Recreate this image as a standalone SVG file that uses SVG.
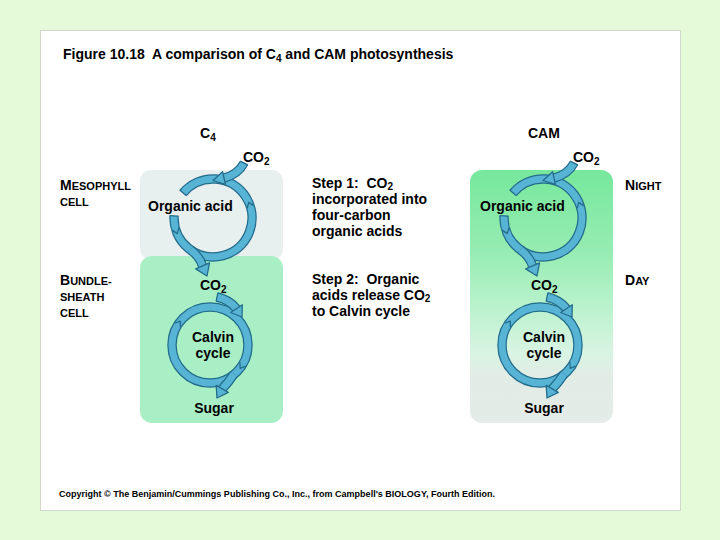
<svg xmlns="http://www.w3.org/2000/svg" width="720" height="540" viewBox="0 0 720 540">
<defs>
<style>
.t{font-family:"Liberation Sans",Arial,Helvetica,sans-serif;font-weight:bold;font-size:14px;fill:#000}
.sc{font-size:11px}
.sub{font-size:10px}
.cp{font-size:9px}
.bo{fill:none;stroke:#236c8c;stroke-width:9.5}
.bi{fill:none;stroke:#58b4d4;stroke-width:7}
.ah{fill:#58b4d4;stroke:#236c8c;stroke-width:1.3;stroke-linejoin:round}
.nt{fill:none;stroke:#236c8c;stroke-width:1.3;stroke-linejoin:round}
.ec{stroke:#236c8c;stroke-width:1.3}
</style>
<linearGradient id="camg" x1="0" y1="170" x2="0" y2="423" gradientUnits="userSpaceOnUse">
<stop offset="0" stop-color="#76e89c"/>
<stop offset="0.32" stop-color="#96ecb2"/>
<stop offset="0.52" stop-color="#b6f2ca"/>
<stop offset="0.72" stop-color="#d8f4e2"/>
<stop offset="0.82" stop-color="#e2ece6"/>
<stop offset="1" stop-color="#e4ebe8"/>
</linearGradient>
</defs>
<rect width="720" height="540" fill="#e4fad8"/>
<rect x="40.5" y="30.5" width="640" height="480" fill="#fff" stroke="#d4d8cc"/>

<g id="title"><text class="t" x="63" y="59" xml:space="preserve">Figure 10.18  A comparison of C<tspan class="sub" dy="3">4</tspan><tspan dy="-3"> and CAM photosynthesis</tspan></text></g>

<g id="c4-mesophyll"><rect x="140" y="170" width="143" height="90" rx="11" fill="#e8efef"/></g>
<g id="c4-bundle-sheath"><rect x="140" y="256" width="143" height="167" rx="12" fill="#a8efc6"/></g>
<g id="cam-cell"><rect x="470" y="170" width="143" height="253" rx="12" fill="url(#camg)"/></g>

<g id="c4-label"><text class="t" x="200" y="138">C<tspan class="sub" dy="3">4</tspan></text></g>
<g id="cam-label"><text class="t" x="528" y="138">CAM</text></g>

<g id="row-labels">
<text class="t" x="60" y="190">M<tspan class="sc">ESOPHYLL</tspan></text>
<text class="t" x="60" y="206"><tspan class="sc">CELL</tspan></text>
<text class="t" x="60" y="285">B<tspan class="sc">UNDLE-</tspan></text>
<text class="t" x="60" y="301"><tspan class="sc">SHEATH</tspan></text>
<text class="t" x="60" y="317"><tspan class="sc">CELL</tspan></text>
<text class="t" x="625" y="190">N<tspan class="sc">IGHT</tspan></text>
<text class="t" x="625" y="285">D<tspan class="sc">AY</tspan></text>
</g>

<g id="step1"><text class="t" x="312" y="188" xml:space="preserve">Step 1:  CO<tspan class="sub" dy="2">2</tspan></text>
<text class="t" x="312" y="204">incorporated into</text>
<text class="t" x="312" y="220">four-carbon</text>
<text class="t" x="312" y="236">organic acids</text></g>
<g id="step2"><text class="t" x="312" y="284" xml:space="preserve">Step 2:  Organic</text>
<text class="t" x="312" y="300">acids release CO<tspan class="sub" dy="2">2</tspan></text>
<text class="t" x="312" y="316">to Calvin cycle</text></g>

<g id="c4-acid-cycle">
<path class="bo" d="M174.05,215.96 A39,39 0 1 0 183.1,192.9"/>
<path class="bi" d="M174.05,215.96 A39,39 0 1 0 183.1,192.9"/>
<line class="ec" x1="178.5" y1="216.2" x2="169.6" y2="215.7"/>
<line class="ec" x1="186.5" y1="195.8" x2="179.7" y2="190"/>
<polyline class="nt" points="178.84,227.75 177.26,233.65 172.26,230.15"/>
<polyline class="nt" points="253.75,205.85 248.75,202.35 247.17,208.25"/>
<text class="t" x="148" y="211">Organic acid</text>
</g>
<g id="c4-calvin-cycle">
<circle class="bo" cx="210" cy="345" r="38"/>
<circle class="bi" cx="210" cy="345" r="38"/>
<polyline class="nt" points="245.8,366.1 240.1,368.3 240,362.2"/>
<polyline class="nt" points="180.34,327.26 180.34,321.15 174.6,323.24"/>
<text class="t" x="213" y="342" text-anchor="middle">Calvin</text>
<text class="t" x="213" y="358" text-anchor="middle">cycle</text>
</g>
<g id="c4-co2-in"><text class="t" x="243" y="162">CO<tspan class="sub" dy="3">2</tspan></text></g>
<g id="c4-co2-mid"><text class="t" x="200" y="290">CO<tspan class="sub" dy="3">2</tspan></text></g>
<g id="c4-sugar"><text class="t" x="214" y="413" text-anchor="middle">Sugar</text></g>

<g id="cam-acid-cycle" transform="translate(330,0)">
<path class="bo" d="M174.05,215.96 A39,39 0 1 0 183.1,192.9"/>
<path class="bi" d="M174.05,215.96 A39,39 0 1 0 183.1,192.9"/>
<line class="ec" x1="178.5" y1="216.2" x2="169.6" y2="215.7"/>
<line class="ec" x1="186.5" y1="195.8" x2="179.7" y2="190"/>
<polyline class="nt" points="178.84,227.75 177.26,233.65 172.26,230.15"/>
<polyline class="nt" points="253.75,205.85 248.75,202.35 247.17,208.25"/>
</g>
<g id="cam-organic-acid"><text class="t" x="480" y="211">Organic acid</text></g>
<g id="cam-calvin-cycle">
<g transform="translate(330,0)">
<circle class="bo" cx="210" cy="345" r="38"/>
<circle class="bi" cx="210" cy="345" r="38"/>
<polyline class="nt" points="245.8,366.1 240.1,368.3 240,362.2"/>
<polyline class="nt" points="180.34,327.26 180.34,321.15 174.6,323.24"/>
</g>
<text class="t" x="544" y="342" text-anchor="middle">Calvin</text>
<text class="t" x="544" y="358" text-anchor="middle">cycle</text>
</g>
<g id="cam-co2-in"><text class="t" x="573" y="162">CO<tspan class="sub" dy="3">2</tspan></text></g>
<g id="cam-co2-mid"><text class="t" x="531" y="290">CO<tspan class="sub" dy="3">2</tspan></text></g>
<g id="cam-sugar"><text class="t" x="544" y="413" text-anchor="middle">Sugar</text></g>

<g id="connectors">
<g id="c4-connectors">
<path class="bo" d="M244,163 C240,171 233,176 223,178.3"/>
<path class="bi" d="M244,163 C240,171 233,176 223,178.3"/>
<line class="ec" x1="247.8" y1="164.9" x2="240.2" y2="161.1"/>
<polygon class="ah" points="222.6,171.7 213,180.5 225.4,184.3"/>
<path class="bo" d="M190.6,249.9 C196,254 200.5,259 202.6,265.9"/>
<path class="bi" d="M190.6,249.9 C196,254 200.5,259 202.6,265.9"/>
<polygon class="ah" points="209.5,262.9 207,276 195.7,268.9"/>
<path class="bo" d="M217,297 C226,299 232,303 236.5,308.7"/>
<path class="bi" d="M217,297 C226,299 232,303 236.5,308.7"/>
<line class="ec" x1="216.1" y1="301.4" x2="217.9" y2="292.6"/>
<polygon class="ah" points="242.3,304.8 242,317 230.7,312.5"/>
<path class="bo" d="M234,374 C230,380 226,385 222.25,388.9"/>
<path class="bi" d="M234,374 C230,380 226,385 222.25,388.9"/>
<polygon class="ah" points="228.3,392.4 217,398 216.2,385.4"/>
</g>
<g id="cam-connectors" transform="translate(330,0)">
<path class="bo" d="M244,163 C240,171 233,176 223,178.3"/>
<path class="bi" d="M244,163 C240,171 233,176 223,178.3"/>
<line class="ec" x1="247.8" y1="164.9" x2="240.2" y2="161.1"/>
<polygon class="ah" points="222.6,171.7 213,180.5 225.4,184.3"/>
<path class="bo" d="M190.6,249.9 C196,254 200.5,259 202.6,265.9"/>
<path class="bi" d="M190.6,249.9 C196,254 200.5,259 202.6,265.9"/>
<polygon class="ah" points="209.5,262.9 207,276 195.7,268.9"/>
<path class="bo" d="M217,297 C226,299 232,303 236.5,308.7"/>
<path class="bi" d="M217,297 C226,299 232,303 236.5,308.7"/>
<line class="ec" x1="216.1" y1="301.4" x2="217.9" y2="292.6"/>
<polygon class="ah" points="242.3,304.8 242,317 230.7,312.5"/>
<path class="bo" d="M234,374 C230,380 226,385 222.25,388.9"/>
<path class="bi" d="M234,374 C230,380 226,385 222.25,388.9"/>
<polygon class="ah" points="228.3,392.4 217,398 216.2,385.4"/>
</g>
</g>

<g id="copyright"><text class="t cp" x="59" y="497" textLength="436">Copyright © The Benjamin/Cummings Publishing Co., Inc., from Campbell's BIOLOGY, Fourth Edition.</text></g>
</svg>
